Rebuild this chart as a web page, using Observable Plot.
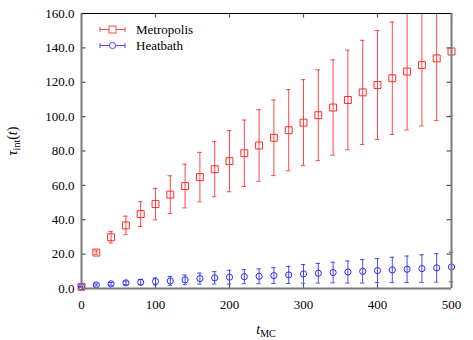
<!DOCTYPE html>
<html><head><meta charset="utf-8">
<script src="https://cdn.jsdelivr.net/npm/d3@7"></script>
<script src="https://cdn.jsdelivr.net/npm/@observablehq/plot@0.6"></script>
<style>body{margin:0;background:#fff} svg{display:block} svg text{font-family:"Liberation Serif","DejaVu Serif",serif !important;}</style>
</head><body><div id="chart"></div>
<script>
const tMC = [0,20,40,60,80,100,120,140,160,180,200,220,240,260,280,300,320,340,360,380,400,420,440,460,480,500];
const metropolisTau = [1.0,20.9,29.8,36.7,43.3,49.1,54.6,59.6,64.8,69.4,74.1,78.7,83.2,87.7,92.1,96.5,100.8,105.3,109.7,114.1,118.4,122.3,126.2,130.0,133.9,137.9];
const metropolisErr = [0.3,1.0,3.3,5.4,7.2,9.2,11.0,12.7,14.4,16.0,17.8,19.3,20.8,22.0,23.6,25.0,26.4,27.7,29.0,30.3,31.7,32.7,33.9,35.4,36.2,37.5];
const heatbathTau = [1.0,2.1,2.7,3.3,3.7,4.1,4.4,5.0,5.8,6.2,6.6,6.9,7.1,7.5,7.9,8.5,8.9,9.3,9.6,10.0,10.4,10.8,11.2,11.6,12.0,12.5];
const heatbathErr = [0.2,0.6,0.8,1.0,1.5,2.0,2.6,2.8,3.2,3.6,4.0,4.1,4.3,4.6,5.0,5.4,5.7,6.0,6.4,6.8,7.0,7.4,7.7,8.0,8.3,8.6];
const seriesNames = ["Metropolis","Heatbath"];
const xTicks = [0,100,200,300,400,500];
const yTicks = [0,20,40,60,80,100,120,140,160];

const xMax = 500, yMax = 160;
const red = "#ff2a2a", blue = "#2a2aff", axisGray = "#7a7a7a";
const serif = "Liberation Serif, DejaVu Serif, serif";

function build(tau, err) {
  return tMC.map((t, i) => ({t, v: tau[i], lo: Math.max(0, tau[i] - err[i]), hi: tau[i] + err[i], hiC: Math.min(yMax, tau[i] + err[i])}));
}
const metro = build(metropolisTau, metropolisErr);
const heat = build(heatbathTau, heatbathErr);

const W = 473, H = 340;
const mL = 81, mR = 22, mT = 13, mB = 52;
const pxX = (W - mL - mR) / xMax;
const pxY = (H - mT - mB) / yMax;
const capHalf = 2.2 / pxX;
const tickLenX = 4.5 / pxX;
const tickLenY = 4.5 / pxY;

function errMarks(data, color) {
  return [
    Plot.ruleX(data, {x: "t", y1: "lo", y2: "hiC", stroke: color, strokeWidth: 1, strokeOpacity: 0.85}),
    Plot.ruleY(data.filter(d => d.hi <= yMax), {y: "hi", x1: d => d.t - capHalf, x2: d => d.t + capHalf, stroke: color, strokeWidth: 1, strokeOpacity: 0.85}),
    Plot.ruleY(data, {y: "lo", x1: d => d.t - capHalf, x2: d => d.t + capHalf, stroke: color, strokeWidth: 1, strokeOpacity: 0.85})
  ];
}

const chart = Plot.plot({
  width: W, height: H,
  marginLeft: mL, marginRight: mR, marginTop: mT, marginBottom: mB,
  style: {fontFamily: serif, fontSize: "13px", color: "#000", background: "#fff"},
  x: {domain: [0, xMax], label: null},
  y: {domain: [0, yMax], label: null},
  marks: [
    Plot.axisX(xTicks, {tickSize: 0, tickPadding: 11, tickFormat: d => String(d), fontSize: 13, fill: "#000"}),
    Plot.axisY(yTicks, {tickSize: 0, tickPadding: 7, tickFormat: d => d.toFixed(1), fontSize: 13, fill: "#000"}),
    Plot.ruleX(xTicks, {x: d => d, y1: 0, y2: tickLenY, stroke: "#555", strokeWidth: 1.2}),
    Plot.ruleX(xTicks, {x: d => d, y1: yMax, y2: yMax - tickLenY, stroke: "#555", strokeWidth: 1.2}),
    Plot.ruleY(yTicks, {y: d => d, x1: 0, x2: tickLenX, stroke: "#555", strokeWidth: 1.2}),
    Plot.ruleY(yTicks, {y: d => d, x1: xMax, x2: xMax - tickLenX, stroke: "#555", strokeWidth: 1.2}),
    ...errMarks(metro, red),
    ...errMarks(heat, blue),
    Plot.dot(metro, {x: "t", y: "v", symbol: "square", r: 3.9, stroke: red, strokeWidth: 1, fill: "none"}),
    Plot.dot(heat, {x: "t", y: "v", symbol: "circle", r: 3.1, stroke: blue, strokeWidth: 1, fill: "none"}),
    Plot.ruleY([yMax], {stroke: "#000", strokeWidth: 1.2}),
    Plot.ruleX([0, xMax], {stroke: axisGray, strokeWidth: 2}),
    Plot.ruleY([0], {stroke: axisGray, strokeWidth: 2})
  ]
});
document.getElementById("chart").appendChild(chart);

const svg = d3.select(chart);
const xl = svg.append("text").attr("x", mL + (W - mL - mR) / 2).attr("y", 334)
  .attr("text-anchor", "middle").attr("font-size", 14).attr("fill", "#000");
xl.append("tspan").attr("font-style", "italic").text("t");
xl.append("tspan").attr("font-size", 10).attr("dy", 3).text("MC");
const yl = svg.append("text").attr("transform", "translate(17,141) rotate(-90)")
  .attr("text-anchor", "middle").attr("font-size", 14).attr("fill", "#000");
yl.append("tspan").attr("font-style", "italic").text("τ");
yl.append("tspan").attr("font-size", 10).attr("dy", 3).text("int");
yl.append("tspan").attr("dy", -3).text("(");
yl.append("tspan").attr("font-style", "italic").text("t");
yl.append("tspan").text(")");

const legendItems = [
  {name: seriesNames[0], color: red, sym: "square", y: 29.5},
  {name: seriesNames[1], color: blue, sym: "circle", y: 45.5}
];
legendItems.forEach(it => {
  const g = svg.append("g").attr("stroke", it.color).attr("fill", "none").attr("stroke-opacity", 0.85);
  g.append("line").attr("x1", 100).attr("x2", 125).attr("y1", it.y).attr("y2", it.y);
  g.append("line").attr("x1", 100).attr("x2", 100).attr("y1", it.y - 2.5).attr("y2", it.y + 2.5);
  g.append("line").attr("x1", 125).attr("x2", 125).attr("y1", it.y - 2.5).attr("y2", it.y + 2.5);
  if (it.sym === "square") g.append("rect").attr("x", 109).attr("y", it.y - 3.5).attr("width", 7).attr("height", 7).attr("fill", "#fff");
  else g.append("circle").attr("cx", 112.5).attr("cy", it.y).attr("r", 3.1).attr("fill", "#fff");
  svg.append("text").attr("x", 136).attr("y", it.y + 4).attr("text-anchor", "start")
    .attr("font-size", 13).attr("fill", "#000").text(it.name);
});
</script>
</body></html>
